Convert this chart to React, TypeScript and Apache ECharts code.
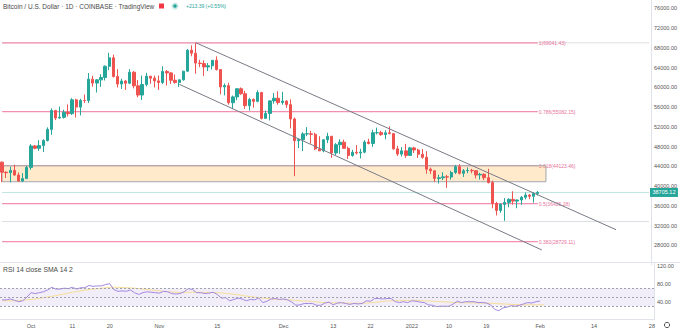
import React, { useEffect, useRef } from "react";
import * as echarts from "echarts";

const START_DATE = Date.UTC(2021, 8, 24);
const DAY_COUNT = 158;

const OPEN = [44850,42810,42700,43180,42230,41030,41520,43790,48140,47660,48200,49230,51490,55340,53800,53950,54960,54680,57480,56010,57370,57350,61670,60880,61530,62010,64280,66000,62210,60690,61290,60860,63080,60330,58450,60590,62270,61880,61320,61000,63230,62940,61450,61010,61530,63300,67540,66940,64930,64830,64150,64390,65500,63620,60100,60370,56890,58080,59730,58720,56300,57570,57180,58960,53730,54720,57270,57810,56950,57230,56510,53600,49200,49400,50580,50600,50490,47540,47140,49390,50100,46720,48380,48900,47650,46200,46850,46700,46880,48940,48630,50820,50830,50430,50800,50640,47550,46480,47140,46220,47740,47310,46450,45830,43430,43100,41550,41680,41870,41830,42740,43920,42590,43100,43180,43110,42250,42380,41690,40700,36460,35070,36290,36690,37300,36950,37180,37720,38170,37920,38490];
const HIGH = [45000,42970,43900,44350,42770,42620,44100,48500,48340,49300,49500,51900,55750,55340,56100,55500,56560,57830,57700,57700,58550,62900,62350,61700,62670,64480,67000,66640,63700,61750,61490,63700,63290,61490,62400,62950,62300,62400,62420,64270,63520,63120,62600,61570,63300,67800,68530,69000,65600,65500,64950,65530,66300,63620,60800,60950,58350,59850,60000,59300,57880,57750,59400,59100,55300,57400,58870,59200,59100,57400,57600,53900,49700,50900,51950,51200,50800,50100,49500,50800,50150,48700,49500,49400,48000,47350,48300,47550,49300,49600,51400,51850,51200,51300,52100,50700,48150,47900,48550,47950,47980,47570,47500,47070,43750,43150,42300,42800,42250,43100,44300,44450,43450,43800,43480,43180,42700,42600,43500,41100,36800,36500,37550,37550,38950,37250,38000,38700,38370,38700,39000];
const LOW = [40800,41650,40750,42110,40900,40800,41430,43300,47460,47130,46900,49050,50400,53370,53650,53680,54100,54420,53900,54330,56850,56850,60150,58960,60100,61400,63500,62000,60000,59700,59500,60650,59800,58000,57450,60200,60750,60000,59500,60700,60400,60700,60760,60100,61370,63100,66300,62800,64100,62300,63300,63620,63420,58600,58380,56500,55600,57400,58500,55650,55300,55900,57000,53500,53650,53300,56700,56500,56500,55850,51700,42000,47700,47100,50100,48600,47300,47100,46850,48700,45700,46300,46550,47550,45500,45950,46400,45600,46650,48450,47950,50450,50200,49500,50500,47350,46100,46000,45700,46200,46700,45700,45550,42500,42450,40800,40500,41200,39650,41300,42450,42350,41850,42600,42600,41550,41300,41200,40550,35500,34050,34600,32950,35700,36250,35500,36200,37300,37350,36650,38100];
const CLOSE = [42810,42700,43180,42230,41030,41520,43790,48140,47660,48200,49230,51490,55340,53800,53950,54960,54680,57480,56010,57370,57350,61670,60880,61530,62010,64280,66000,62210,60690,61290,60860,63080,60330,58450,60590,62270,61880,61320,61000,63230,62940,61450,61010,61530,63300,67540,66940,64930,64830,64150,64390,65500,63620,60100,60370,56890,58080,59730,58720,56300,57570,57180,58960,53730,54720,57270,57810,56950,57230,56510,53600,49200,49400,50580,50600,50490,47540,47140,49390,50100,46720,48380,48900,47650,46200,46850,46700,46880,48940,48630,50820,50830,50430,50800,50640,47550,46480,47140,46220,47740,47310,46450,45830,43430,43100,41550,41680,41870,41830,42740,43920,42590,43100,43180,43110,42250,42380,41690,40700,36460,35070,36290,36690,37300,36950,37180,37720,38170,37920,38490,38705.12];

const RSI = [44,44,46,43,40,42,50,60,58,60,62,66,72,68,68,70,69,72,68,71,71,76,74,75,75,78,80,67,63,64,63,66,60,56,60,62,61,60,59,63,62,58,57,58,62,69,67,60,60,58,59,61,56,48,49,42,45,48,46,42,45,44,48,38,41,46,47,45,46,44,39,32,33,36,36,36,32,32,37,39,33,37,38,36,34,36,35,36,42,41,47,47,46,47,47,40,38,40,38,42,41,39,38,33,32,29,30,30,30,35,41,38,40,40,40,38,38,37,33,23,20,26,28,31,30,32,35,38,37,40,41.5];
const RSI_SMA = [42,42,42,42,42.5,43,44,45,46,47.5,49,50.5,52,53.5,55.5,57,59,61,62.5,64,65.5,67,68,69,70,71,72,72,72,71.5,71,70.5,70,69,68,67,66,65,64,63,62,61.5,61,60.5,60.5,61,61,61,61,60.5,60.5,60.5,60,59.5,58.5,57.5,56.5,55.5,54,52.5,51.5,50,49,48,47,46,45.5,45,44.5,44,43.5,43,42,41.5,41,40.5,39.5,38.5,38,37.5,37.5,37,37,37,36.5,36.5,36.5,36.5,37,37.5,38.5,39.5,40.5,41.5,42,42.5,43,43,43,43,43,42.5,42,41.5,41,40.5,40,39.5,39,38.5,38,38,37.5,37.5,37.5,37,37,37,36.5,36,35.5,35,34.5,34,33.5,33.5,33,33,33,33,33,33];

const DATE_TICKS: Record<string, string> = {
  "2021-10-01": "Oct", "2021-10-11": "11", "2021-10-20": "20", "2021-11-01": "Nov",
  "2021-11-15": "15", "2021-12-01": "Dec", "2021-12-13": "13", "2021-12-22": "22",
  "2022-01-01": "2022", "2022-01-10": "10", "2022-01-19": "19", "2022-02-01": "Feb",
  "2022-02-14": "14", "2022-02-28": "28",
};

const FIB_RATIOS = ["1", "0.786", "0.618", "0.5", "0.382"];
const FIB_VALUES = [69041.43, 55082.15, 44123.46, 36426.28, 28729.11];
const FIB_START = "2021-09-24";
const FIB_END = "2022-02-01";
const ZONE_LOW = 40880;
const ZONE_HIGH = 44123.46;
const ZONE_END = "2022-02-03";
const RAY_LEVELS = [69041.43, 32800];
const LAST_PRICE = 38705.12;
const CHANNEL_UPPER = [["2021-11-10", 69067], ["2022-02-20", 31160]];
const CHANNEL_LOWER = [["2021-11-06", 60634], ["2022-02-02", 27044]];
const RSI_BANDS = [70, 50, 30];

const UP = "#26a69a";
const DOWN = "#ef5350";
const FIB_COLOR = "#f38fb0";
const FONT = "'Liberation Sans', Arial, sans-serif";

export default function App() {
  const ref = useRef<HTMLDivElement>(null);
  useEffect(() => {
    if (!ref.current) return;
    const chart = echarts.init(ref.current, undefined, { renderer: "svg" });
    const cats: string[] = [];
    for (let i = 0; i < DAY_COUNT; i++) {
      cats.push(new Date(START_DATE + i * 86400000).toISOString().slice(0, 10));
    }
    const firstCat = cats[0];
    const lastCat = cats[cats.length - 1];
    const candles = OPEN.map((o, i) => [o, CLOSE[i], LOW[i], HIGH[i]]);

    const flatLine = (from: string, to: string, v: number, color: string, width: number, endLabel: any, z: number) => ({
      type: "line", xAxisIndex: 0, yAxisIndex: 0, silent: true, symbol: "none", z,
      data: [[from, v], [to, v]],
      lineStyle: { color, width, type: "solid" },
      endLabel,
      clip: false,
    });

    const rayLines = RAY_LEVELS.map((v) => flatLine(firstCat, lastCat, v, "#dcdde2", 1, { show: false }, 1));
    const priceLine = flatLine(firstCat, lastCat, LAST_PRICE, "#bfe5e1", 1, {
      show: true, distance: 1, formatter: LAST_PRICE.toFixed(2),
      backgroundColor: UP, color: "#fff", fontSize: 5.5, padding: [1.5, 2.5], fontFamily: FONT,
    }, 1);
    const fibLines = FIB_VALUES.map((v, i) => flatLine(FIB_START, FIB_END, v, FIB_COLOR, 1.2, {
      show: true, distance: 1, formatter: `${FIB_RATIOS[i]}(${v.toFixed(2)})`,
      color: "#e8739b", fontSize: 5, fontFamily: FONT, padding: [0, 0, 6, 0],
    }, 2));

    const option: any = {
      animation: false,
      backgroundColor: "#ffffff",
      textStyle: { fontFamily: FONT },
      grid: [
        { left: 0, top: 0, width: 654, height: 265 },
        { left: 0, top: 262.5, width: 654, height: 57.2 },
      ],
      xAxis: [
        {
          type: "category", gridIndex: 0, data: cats, boundaryGap: true,
          axisLabel: { show: false }, axisLine: { show: false }, axisTick: { show: false }, splitLine: { show: false },
        },
        {
          type: "category", gridIndex: 1, data: cats, boundaryGap: true,
          axisLine: { show: true, lineStyle: { color: "#e0e3eb" } },
          axisTick: { show: false },
          splitLine: { show: false },
          axisLabel: {
            interval: (_i: number, v: string) => DATE_TICKS[v] !== undefined,
            formatter: (v: string) => DATE_TICKS[v] ?? "",
            fontSize: 5.5, color: "#555", margin: 3, fontFamily: FONT,
            hideOverlap: false,
          },
        },
      ],
      yAxis: [
        {
          type: "value", gridIndex: 0, position: "right", min: 24000, max: 77720, interval: 4000,
          splitLine: { show: false },
          axisLine: { show: true, lineStyle: { color: "#e0e3eb" } },
          axisTick: { show: false },
          axisLabel: {
            formatter: (v: number) => v.toFixed(2), fontSize: 5.5, color: "#555", margin: 3,
            showMinLabel: false, showMaxLabel: false, fontFamily: FONT,
          },
        },
        {
          type: "value", gridIndex: 1, position: "right", min: 0, max: 127, interval: 40,
          splitLine: { show: false },
          axisLine: { show: true, lineStyle: { color: "#e0e3eb" } },
          axisTick: { show: false },
          axisLabel: {
            formatter: (v: number) => v.toFixed(2), fontSize: 5.5, color: "#555", margin: 3,
            showMinLabel: false, showMaxLabel: false, fontFamily: FONT,
          },
        },
      ],
      series: [
        ...rayLines,
        priceLine,
        ...fibLines,
        {
          type: "candlestick", xAxisIndex: 0, yAxisIndex: 0, data: candles, barWidth: "70%", z: 4,
          itemStyle: { color: UP, color0: DOWN, borderColor: UP, borderColor0: DOWN, borderWidth: 1 },
          markArea: {
            silent: true, z: 3,
            itemStyle: { color: "rgba(255,152,0,0.2)", borderColor: "#a3a6af", borderWidth: 1 },
            data: [[{ coord: [FIB_START, ZONE_HIGH] }, { coord: [ZONE_END, ZONE_LOW] }]],
          },
        },
        {
          type: "line", xAxisIndex: 0, yAxisIndex: 0, data: CHANNEL_UPPER, symbol: "none", z: 5,
          lineStyle: { color: "#787b86", width: 1 }, silent: true,
        },
        {
          type: "line", xAxisIndex: 0, yAxisIndex: 0, data: CHANNEL_LOWER, symbol: "none", z: 5,
          lineStyle: { color: "#787b86", width: 1 }, silent: true,
        },
        {
          type: "line", xAxisIndex: 1, yAxisIndex: 1, data: RSI_SMA, symbol: "none",
          lineStyle: { color: "#f5dd95", width: 1 }, silent: true,
        },
        {
          type: "line", xAxisIndex: 1, yAxisIndex: 1, data: RSI, symbol: "none",
          lineStyle: { color: "#a487e0", width: 1 }, silent: true,
          markArea: {
            silent: true,
            itemStyle: { color: "rgba(126,87,194,0.1)" },
            data: [[{ yAxis: RSI_BANDS[0] }, { yAxis: RSI_BANDS[2] }]],
          },
          markLine: {
            silent: true, symbol: "none", label: { show: false },
            lineStyle: { color: "#a0a3ab", width: 1, type: [2, 2] },
            data: RSI_BANDS.map((v) => ({ yAxis: v })),
          },
        },
      ],
      graphic: [
        { type: "line", shape: { x1: 0, y1: 262.5, x2: 680, y2: 262.5 }, style: { stroke: "#e0e3eb", lineWidth: 1 }, silent: true },
        { type: "text", x: 3, y: 6, style: { text: "Bitcoin / U.S. Dollar · 1D · COINBASE · TradingView", fontSize: 6.5, fill: "#4a4a4a", verticalAlign: "middle", fontFamily: FONT } },
        { type: "rect", shape: { x: 159, y: 3.5, width: 5, height: 5 }, style: { fill: "#f23645" } },
        { type: "circle", shape: { cx: 175, cy: 6, r: 3.5 }, style: { fill: "rgba(38,166,154,0.25)" } },
        { type: "circle", shape: { cx: 175, cy: 6, r: 1.8 }, style: { fill: UP } },
        { type: "text", x: 186, y: 6, style: { text: "+213.39 (+0.55%)", fontSize: 5, fill: UP, verticalAlign: "middle", fontFamily: FONT } },
        { type: "text", x: 3, y: 269.5, style: { text: "RSI 14 close SMA 14 2", fontSize: 6.8, fill: "#4a4a4a", verticalAlign: "middle", fontFamily: FONT } },
        { type: "circle", shape: { cx: 667, cy: 325, r: 2.6 }, style: { fill: "none", stroke: "#555", lineWidth: 1 } },
      ],
    };
    chart.setOption(option);
    return () => chart.dispose();
  }, []);
  return (
    <div
      ref={ref}
      style={{ position: "fixed", left: 0, top: 0, width: 680, height: 330, background: "#fff" }}
    />
  );
}
